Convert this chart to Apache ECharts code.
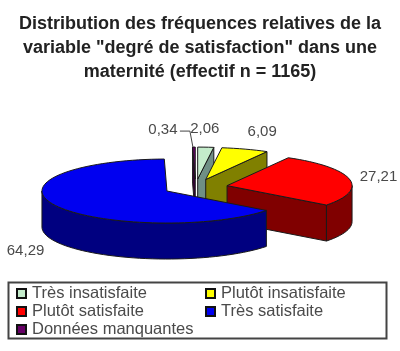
<!DOCTYPE html>
<html><head><meta charset="utf-8">
<style>html,body{margin:0;padding:0;background:#fff}#c{width:400px;height:351px}</style>
<script src="https://cdn.jsdelivr.net/npm/echarts@6/dist/echarts.min.js"></script>
</head><body><div id="c"></div>
<script>
const titleText = 'Distribution des fréquences relatives de la\nvariable "degré de satisfaction" dans une\nmaternité (effectif n = 1165)';
const categories = ['Très insatisfaite','Plutôt insatisfaite','Plutôt satisfaite','Très satisfaite','Données manquantes'];
const values = [2.06, 6.09, 27.21, 64.29, 0.34];
const topColors = ['#c4eccb','#ffff00','#ff0000','#0000f0','#660066'];
const wallColors = ['#6f8f85','#808000','#800000','#000080','#330033'];
const drawOrder = [4,0,1,2,3];
const labelOffsets = [[-1,-18],[17,-17],[29,-2],[-30,45],[-31,-17]];
const C = {cx:195.6, cy:187.3, rx:125, ry:32, h:36, explode:0.257};

const total = values.reduce((a,b)=>a+b,0);
const rad = d => d*Math.PI/180;
const starts = []; let acc = 0;
values.forEach(v=>{starts.push(acc); acc += v/total*360;});

function sliceGeom(i){
  const a0 = starts[i], a1 = a0 + values[i]/total*360, mid = (a0+a1)/2;
  const ax = C.cx + C.explode*C.rx*Math.sin(rad(mid));
  const ay = C.cy - C.explode*C.ry*Math.cos(rad(mid));
  const rim = a => [ax + C.rx*Math.sin(rad(a)), ay - C.ry*Math.cos(rad(a))];
  return {a0,a1,mid,ax,ay,rim};
}
function arcPts(g,from,to){
  const n = Math.max(2,Math.ceil((to-from)/3)), p=[];
  for(let k=0;k<=n;k++) p.push(g.rim(from+(to-from)*k/n));
  return p;
}
const down = p => [p[0],p[1]+C.h];
const edge = '#1a1a1a';
const poly = (points,fill) => ({type:'polygon',silent:true,shape:{points},style:{fill,stroke:edge,lineWidth:1,lineJoin:'round'}});

function renderSlice(i){
  const g = sliceGeom(i), kids = [], apex=[g.ax,g.ay];
  const face = a => { const r=g.rim(a); kids.push(poly([apex,r,down(r),down(apex)],wallColors[i])); };
  if(Math.sin(rad(g.a0))<0) face(g.a0);
  if(Math.sin(rad(g.a1))>0) face(g.a1);
  const w0=Math.max(g.a0,90), w1=Math.min(g.a1,270);
  if(w1>w0){ const t=arcPts(g,w0,w1); kids.push(poly(t.concat(t.map(down).reverse()),wallColors[i])); }
  kids.push(poly([apex].concat(arcPts(g,g.a0,g.a1)),topColors[i]));
  const e=g.rim(g.mid), o=labelOffsets[i];
  const lx=e[0]+o[0], ly=e[1]+o[1];
  kids.push({type:'text',silent:true,z2:50,style:{x:lx,y:ly,text:values[i].toFixed(2).replace('.',','),align:'center',verticalAlign:'middle',fill:'#4a4a4a',font:'15px "Liberation Sans"'}});
  if(categories[i]==='Données manquantes'){
    kids.push({type:'polyline',silent:true,z2:50,shape:{points:[[lx+17,ly+1],[lx+27,ly+1],[e[0]-1,e[1]]]},style:{stroke:'#444',lineWidth:1,fill:null}});
  }
  return {type:'group',children:kids};
}

const series = drawOrder.map(i=>({
  type:'custom', name:categories[i], coordinateSystem:'none', data:[values[i]],
  itemStyle:{color:topColors[i],borderColor:'#111',borderWidth:1},
  renderItem:()=>renderSlice(i)
}));

const legendBase = {orient:'vertical',icon:'rect',itemWidth:9,itemHeight:9,itemGap:1,selectedMode:false,padding:0,
  textStyle:{fontFamily:'"Liberation Sans"',fontSize:16.5,color:'#4a4a4a',padding:[0,0,0,1],lineHeight:13}};

echarts.init(document.getElementById('c'),null,{renderer:'canvas'}).setOption({
  animation:false, backgroundColor:'#fff',
  title:{text:titleText,left:195,top:7,textAlign:'center',
    textStyle:{fontFamily:'"Liberation Sans"',fontWeight:'bold',fontSize:18,lineHeight:24,color:'#222'}},
  legend:[
    Object.assign({},legendBase,{left:16,top:285,data:[categories[0],categories[2],categories[4]]}),
    Object.assign({},legendBase,{left:205,top:285,data:[categories[1],categories[3]]})
  ],
  graphic:[{type:'rect',silent:true,z:-1,shape:{x:8.5,y:282.5,width:378,height:56},style:{fill:'#fff',stroke:'#444',lineWidth:2}}],
  series
});
</script></body></html>
